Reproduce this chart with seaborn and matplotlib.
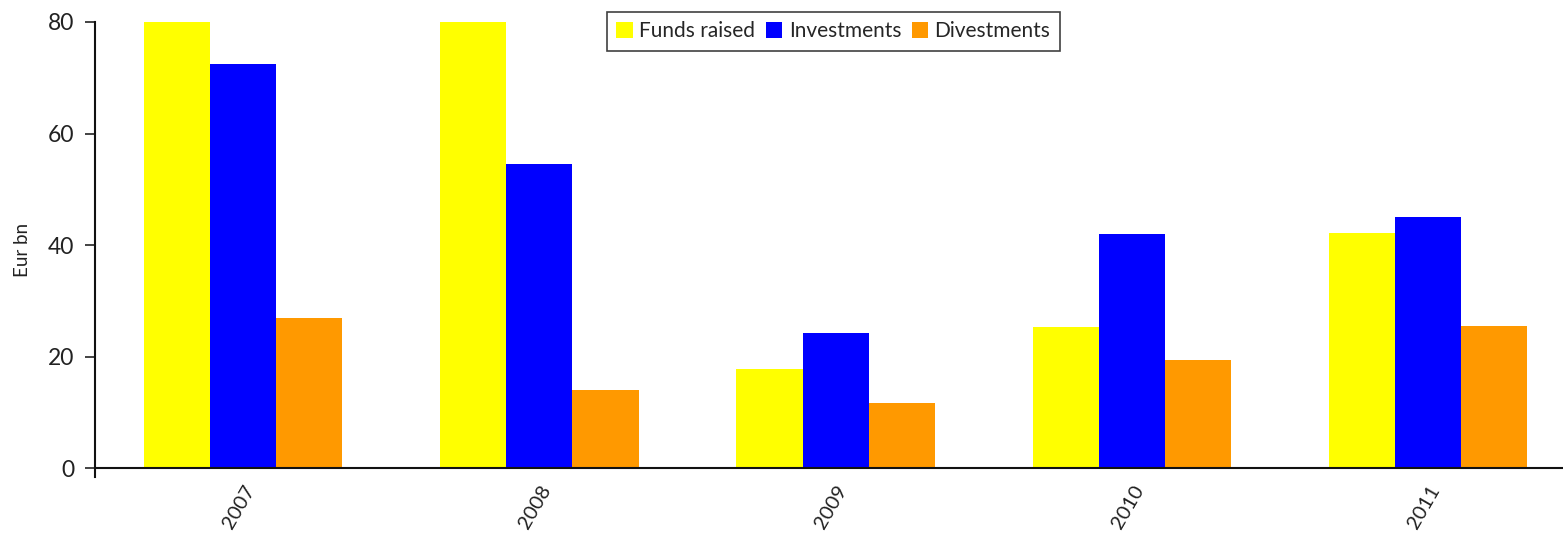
import matplotlib
matplotlib.use("Agg")
import matplotlib.pyplot as plt
import pandas as pd
import seaborn as sns

years = ["2007", "2008", "2009", "2010", "2011"]
funds_raised = [80.0, 80.0, 17.8, 25.3, 42.2]
investments = [72.4, 54.5, 24.3, 41.9, 45.1]
divestments = [27.0, 14.0, 11.7, 19.4, 25.5]
series_names = ["Funds raised", "Investments", "Divestments"]
colors = ["#FFFF00", "#0000FF", "#FF9900"]

df = pd.DataFrame({
    "year": years * 3,
    "value": funds_raised + investments + divestments,
    "series": [s for s in series_names for _ in years],
})

sns.set_style("white")
plt.rcParams["font.family"] = ["Lato", "DejaVu Sans"]

fig = plt.figure(figsize=(15.63, 5.37), dpi=100)
ax = fig.add_axes([95 / 1563, 1 - 477 / 537, 1 - 95 / 1563, (477 - 22) / 537])

sns.barplot(data=df, x="year", y="value", hue="series", palette=colors,
            width=0.67, saturation=1, gap=0, ax=ax, linewidth=0)

ax.set_ylim(-1.6, 80)
ax.set_xlim(-0.5, 4.455)
ax.set_yticks([0, 20, 40, 60, 80])
ax.tick_params(axis="y", direction="out", length=7, width=1.2, color="#222222",
               labelsize=16.5, labelcolor="#222222", left=True, pad=8)
ax.tick_params(axis="x", length=0, labelsize=14.5, labelcolor="#222222", pad=4)
plt.setp(ax.get_xticklabels(), rotation=60, ha="right", rotation_mode="anchor")

ax.axhline(0, color="#111111", lw=1.5, zorder=5)
for side in ["top", "right", "bottom"]:
    ax.spines[side].set_visible(False)
ax.spines["left"].set_color("#111111")
ax.spines["left"].set_linewidth(1.5)

ax.set_xlabel("")
ax.set_ylabel("Eur bn", fontsize=13.5, color="#222222", labelpad=12)

leg = ax.legend(loc="upper center", bbox_to_anchor=(0.503, 1.022), ncol=3,
                frameon=True, fancybox=False, fontsize=15, handlelength=0.8,
                handleheight=0.8, handletextpad=0.3, columnspacing=0.5,
                borderpad=0.45, borderaxespad=0)
leg.get_frame().set_edgecolor("#111111")
leg.get_frame().set_linewidth(1.2)

fig.savefig("out.png", dpi=100)
